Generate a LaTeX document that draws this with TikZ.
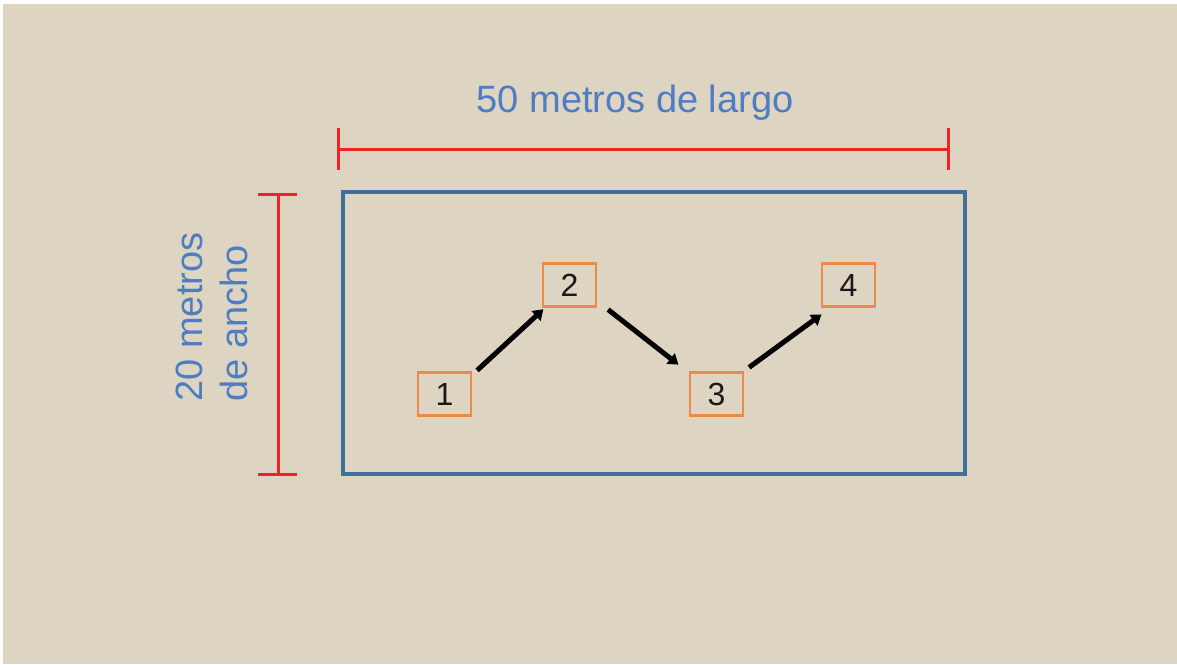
\documentclass[tikz,border=0pt]{standalone}
\usepackage{fontspec}
\setmainfont{Liberation Sans}
\usetikzlibrary{arrows.meta}
\definecolor{bg}{HTML}{DDD4C2}
\definecolor{fieldblue}{HTML}{41709F}
\definecolor{textblue}{HTML}{4E7DC2}
\definecolor{barred}{HTML}{EC2424}
\definecolor{boxorange}{HTML}{EE8948}
\tikzset{
  numbox/.style={draw=boxorange, line width=2.2pt, minimum width=53pt, minimum height=43pt,
    inner sep=0pt, font=\fontsize{32}{38}\selectfont, text=black!90},
  walk/.style={line width=5pt, black, -{Triangle[length=10pt,width=13pt]}, shorten >=-2pt},
  dimbar/.style={barred, line width=3pt},
  dimlabel/.style={text=textblue, font=\fontsize{38}{45}\selectfont, inner sep=0pt}
}
\begin{document}
\begin{tikzpicture}[x=1pt,y=-1pt]
\useasboundingbox (0,0) rectangle (1177,664);
\fill[white] (0,0) rectangle (1177,664);
\fill[bg] (3,4) rectangle (1177,664);
% field
\node[draw=fieldblue, line width=4.5pt, minimum width=622pt, minimum height=282pt, inner sep=0pt] (field) at (654,333) {};
% horizontal dimension
\coordinate (hl) at (338,149);
\coordinate (hr) at (948,149);
\draw[dimbar] (hl) -- (hr);
\draw[dimbar] ([yshift=-21pt]hl) -- ([yshift=21pt]hl);
\draw[dimbar] ([yshift=-21pt]hr) -- ([yshift=21pt]hr);
\node[dimlabel] (hlab) at (635,103) {50 metros de largo};
% vertical dimension
\coordinate (vt) at (278,194);
\coordinate (vb) at (278,474);
\draw[dimbar] (vt) -- (vb);
\draw[dimbar] ([xshift=-20pt]vt) -- ([xshift=19pt]vt);
\draw[dimbar] ([xshift=-20pt]vb) -- ([xshift=19pt]vb);
\node[dimlabel, rotate=90, align=left] (vlab) at (212,317) {20 metros\\de ancho};
% numbered boxes
\node[numbox] (n1) at (444.5,394) {1};
\node[numbox] (n2) at (569.5,285) {2};
\node[numbox] (n3) at (716.5,394) {3};
\node[numbox] (n4) at (848.5,285) {4};
% arrows
\draw[walk] ([shift={(5,-1)}]n1.north east) -- ([shift={(0,3)}]n2.south west);
\draw[walk] ([shift={(11,2)}]n2.south east) -- ([shift={(-12,-8)}]n3.north west);
\draw[walk] ([shift={(5,-4)}]n3.north east) -- ([shift={(-1,8)}]n4.south west);
\end{tikzpicture}
\end{document}
